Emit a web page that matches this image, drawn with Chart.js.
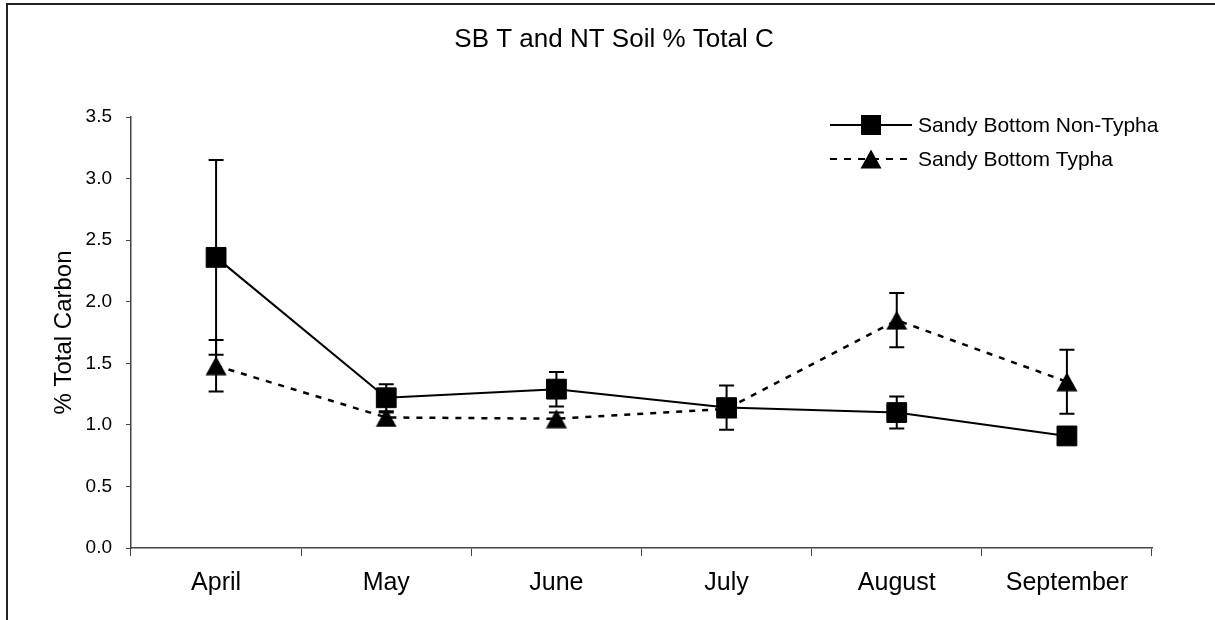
<!DOCTYPE html>
<html>
<head>
<meta charset="utf-8">
<script src="https://cdn.jsdelivr.net/npm/chart.js@4"></script>
<style>
  body { margin: 0; background: #fff; }
  .wrap { position: relative; width: 1215px; height: 620px; overflow: hidden; }
  .frame { position: absolute; left: 6px; top: 3px; width: 1300px; height: 700px;
           border-top: 2px solid #222; border-left: 2px solid #222; }
  canvas { position: absolute; left: 0; top: 0; }
</style>
</head>
<body>
<div class="wrap">
  <div class="frame"></div>
  <canvas id="chart" width="1215" height="620"></canvas>
</div>
<script>
const months = ['April', 'May', 'June', 'July', 'August', 'September']

const nonTypha = [2.36, 1.22, 1.29, 1.14, 1.10, 0.91]
const nonTyphaErr = [0.79, 0.11, 0.14, 0.18, 0.13, 0.02]

const typha = [1.48, 1.06, 1.05, 1.13, 1.85, 1.35]
const typhaErr = [0.21, 0.04, 0.05, 0.03, 0.22, 0.26]

const yTicks = [0, 0.5, 1.0, 1.5, 2.0, 2.5, 3.0, 3.5]

const chartTitle = 'SB T and NT Soil % Total C'

const font = "'Liberation Sans', Arial, sans-serif"

// triangle marker, centred on its box like Excel does
function makeTriangle(w, h) {
  const c = document.createElement('canvas')
  c.width = w
  c.height = h
  const ctx = c.getContext('2d')
  ctx.fillStyle = '#000'
  ctx.beginPath()
  ctx.moveTo(w / 2, 0.5)
  ctx.lineTo(w - 0.5, h - 0.5)
  ctx.lineTo(0.5, h - 0.5)
  ctx.closePath()
  ctx.fill()
  return c
}
const triangle = makeTriangle(22, 20)

const errorBars = {
  id: 'errorBars',
  beforeDatasetsDraw(chart) {
    const ctx = chart.ctx
    const y = chart.scales.y
    const errs = [nonTyphaErr, typhaErr]
    ctx.save()
    ctx.strokeStyle = '#000'
    ctx.lineWidth = 2
    chart.data.datasets.forEach((ds, i) => {
      chart.getDatasetMeta(i).data.forEach((pt, j) => {
        const top = y.getPixelForValue(ds.data[j] + errs[i][j])
        const bot = y.getPixelForValue(ds.data[j] - errs[i][j])
        ctx.beginPath()
        ctx.moveTo(pt.x, top)
        ctx.lineTo(pt.x, bot)
        ctx.moveTo(pt.x - 7.5, top)
        ctx.lineTo(pt.x + 7.5, top)
        ctx.moveTo(pt.x - 7.5, bot)
        ctx.lineTo(pt.x + 7.5, bot)
        ctx.stroke()
      })
    })
    ctx.restore()
  }
}

// title centred on the whole frame, legend in the top right corner
const titleAndLegend = {
  id: 'titleAndLegend',
  afterDraw(chart) {
    const ctx = chart.ctx
    ctx.save()
    ctx.fillStyle = '#000'
    ctx.font = `26px ${font}`
    ctx.textAlign = 'center'
    ctx.textBaseline = 'middle'
    ctx.fillText(chartTitle, 614, 40)

    const rows = [
      {label: chart.data.datasets[0].label, dash: [], y: 125, marker: 'rect'},
      {label: chart.data.datasets[1].label, dash: [7, 7], y: 159, marker: 'tri'}
    ]
    rows.forEach(r => {
      ctx.strokeStyle = '#000'
      ctx.lineWidth = 2
      ctx.setLineDash(r.dash)
      ctx.beginPath()
      ctx.moveTo(830, r.y)
      ctx.lineTo(912, r.y)
      ctx.stroke()
      ctx.setLineDash([])
      if (r.marker === 'rect') ctx.fillRect(861, r.y - 10, 20, 20)
      else ctx.drawImage(triangle, 860, r.y - 10)
      ctx.font = `21px ${font}`
      ctx.textAlign = 'left'
      ctx.fillText(r.label, 918, r.y + 1)
    })
    ctx.restore()
  }
}

new Chart(document.getElementById('chart'), {
  type: 'line',
  data: {
    labels: months,
    datasets: [{
      label: 'Sandy Bottom Non-Typha',
      data: nonTypha,
      borderColor: '#000',
      borderWidth: 2,
      pointStyle: 'rect',
      pointRadius: 14,
      pointBorderWidth: 1,
      pointBackgroundColor: '#000',
      pointBorderColor: '#000',
      tension: 0
    }, {
      label: 'Sandy Bottom Typha',
      data: typha,
      borderColor: '#000',
      borderWidth: 2.5,
      borderDash: [6, 7],
      pointStyle: triangle,
      tension: 0
    }]
  },
  plugins: [errorBars, titleAndLegend],
  options: {
    responsive: false,
    animation: false,
    events: [],
    layout: {padding: {left: 0, right: 63, top: 117, bottom: 0}},
    plugins: {
      legend: {display: false},
      tooltip: {enabled: false},
      title: {display: false}
    },
    scales: {
      x: {
        offset: true,
        afterFit: s => { s.height = 72 },
        grid: {offset: true, drawOnChartArea: false, tickLength: 8, color: '#444'},
        border: {color: '#444', width: 1.5},
        ticks: {color: '#000', padding: 12, font: {family: font, size: 25}}
      },
      y: {
        min: 0,
        max: 3.5,
        afterFit: s => { s.width = 131 },
        afterBuildTicks: s => { s.ticks = yTicks.map(v => ({value: v})) },
        grid: {drawOnChartArea: false, tickLength: 5, color: '#444'},
        border: {color: '#444', width: 1.5},
        ticks: {color: '#000', padding: 14, font: {family: font, size: 19}, callback: v => v.toFixed(1)},
        title: {
          display: true,
          text: '% Total Carbon',
          color: '#000',
          font: {family: font, size: 24, lineHeight: 1.2},
          padding: {top: 50}
        }
      }
    }
  }
})
</script>
</body>
</html>
